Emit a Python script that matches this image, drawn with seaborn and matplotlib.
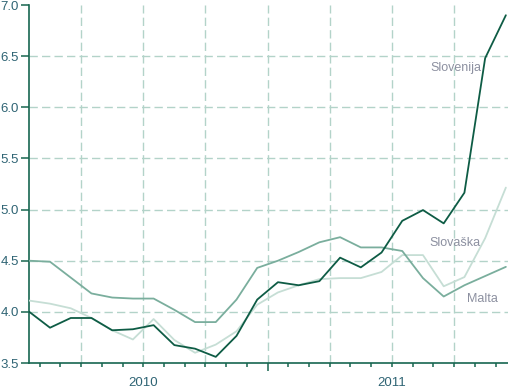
import matplotlib
matplotlib.use("Agg")
import matplotlib.pyplot as plt
import seaborn as sns
import pandas as pd
import numpy as np

months = list(range(24))  # Jan 2010 .. Dec 2011, monthly
slovenija = [4.00, 3.845, 3.94, 3.94, 3.82, 3.83, 3.87, 3.675, 3.64, 3.56, 3.765, 4.12,
             4.29, 4.26, 4.30, 4.53, 4.435, 4.58, 4.89, 4.995, 4.865, 5.165, 6.48, 6.90]
malta = [4.50, 4.49, 4.335, 4.18, 4.14, 4.13, 4.13, 4.02, 3.90, 3.90, 4.12, 4.43,
         4.50, 4.585, 4.68, 4.73, 4.63, 4.63, 4.595, 4.33, 4.15, 4.26, 4.35, 4.44]
slovaska = [4.11, 4.08, 4.035, 3.94, 3.82, 3.73, 3.93, 3.725, 3.60, 3.68, 3.81, 4.07,
            4.19, 4.26, 4.32, 4.33, 4.33, 4.39, 4.555, 4.555, 4.25, 4.34, 4.72, 5.215]
series_names = ["Slovaška", "Malta", "Slovenija"]
years = ["2010", "2011"]
y_ticks = [3.5, 4.0, 4.5, 5.0, 5.5, 6.0, 6.5, 7.0]
y_grid = [4.0, 4.5, 5.0, 5.5, 6.0, 6.5]

df = pd.DataFrame({
    "month": months * 3,
    "value": slovaska + malta + slovenija,
    "series": [series_names[0]] * 24 + [series_names[1]] * 24 + [series_names[2]] * 24,
})

sns.set_style("white")
plt.rcParams["font.family"] = ["Liberation Sans Narrow", "Liberation Sans", "DejaVu Sans"]

fig = plt.figure(figsize=(5.08, 3.88), dpi=100)
ax = fig.add_axes([29.3 / 508, 25 / 388, 478.7 / 508, 358 / 388])

grid_col = "#b3d3c9"
for v in y_grid:
    ax.axhline(v, color=grid_col, lw=1.0, dashes=(6, 3), zorder=0)
for q in [2.5, 5.5, 8.5, 11.5, 14.5, 17.5, 20.5]:
    ax.axvline(q, color=grid_col, lw=1.0, dashes=(6, 3), zorder=0)

palette = {"Slovaška": "#c6ded5", "Malta": "#7aae9d", "Slovenija": "#0e5c45"}
sns.lineplot(data=df, x="month", y="value", hue="series", palette=palette,
             hue_order=series_names, linewidth=1.3, legend=False, ax=ax, zorder=3)

ax.set_xlim(0, 478.7 / 20.72)
ax.set_ylim(3.5, 7.0)
ax.set_xlabel("")
ax.set_ylabel("")

axis_col = "#176650"
text_col = "#2f6474"
for s in ["top", "right"]:
    ax.spines[s].set_visible(False)
for s in ["left", "bottom"]:
    ax.spines[s].set_color(axis_col)
    ax.spines[s].set_linewidth(1.2)

ax.set_yticks(y_ticks)
ax.set_yticklabels([f"{v:.1f}" for v in y_ticks])
ax.tick_params(axis="y", length=6, width=1.1, color=axis_col, labelcolor=text_col,
               labelsize=9.5, pad=1.5, left=True)

ax.xaxis.remove_overlapping_locs = False
bounds = [m + 0.5 for m in months[:-1]]
ax.set_xticks(bounds)
ax.set_xticklabels([""] * len(bounds))
ax.tick_params(axis="x", which="major", length=3.2, width=1.1, color=axis_col, bottom=True)
for i, t in enumerate(ax.xaxis.get_major_ticks()):
    if bounds[i] == 11.5:
        t.tick1line.set_markersize(6)
ax.set_xticks([5.5, 17.5], minor=True)
ax.set_xticklabels(years, minor=True)
ax.tick_params(axis="x", which="minor", length=0, pad=10, labelsize=9.5,
               labelcolor=text_col, bottom=True, labelbottom=True)

lab_col = "#8c90a0"
ax.text(19.36, 6.355, "Slovenija", color=lab_col, fontsize=9, va="baseline", ha="left")
ax.text(19.33, 4.644, "Slovaška", color=lab_col, fontsize=9, va="baseline", ha="left")
ax.text(21.13, 4.10, "Malta", color=lab_col, fontsize=9, va="baseline", ha="left")

fig.savefig("out.png", dpi=100)
